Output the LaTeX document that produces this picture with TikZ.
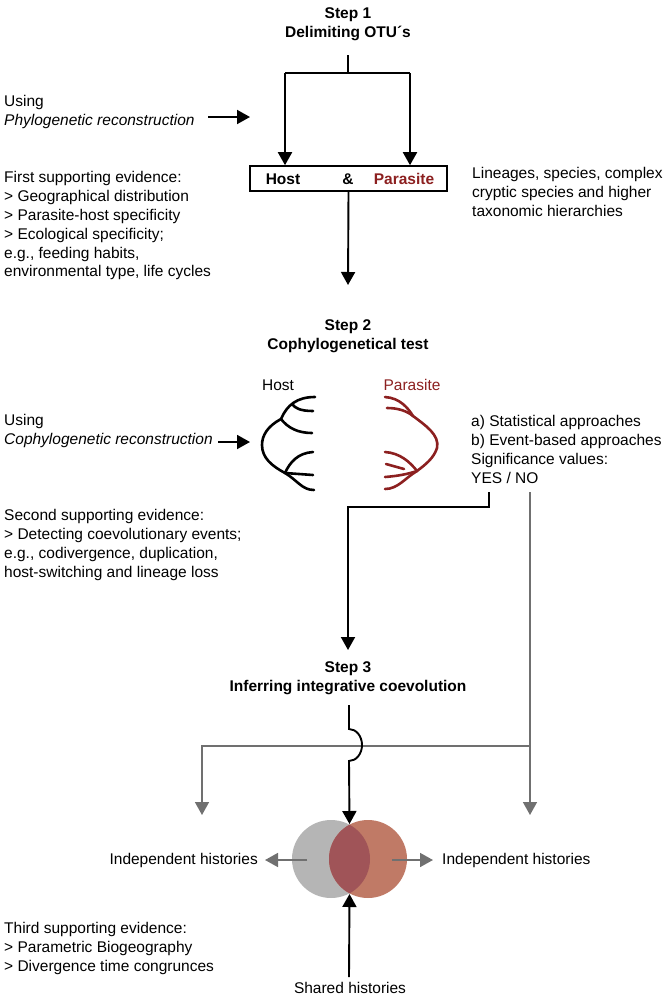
\documentclass[tikz,border=0pt]{standalone}
\usepackage{fontspec}
\setmainfont{Liberation Sans}
\usetikzlibrary{arrows.meta}
\usetikzlibrary{positioning}
\definecolor{parasitered}{RGB}{140,32,32}
\definecolor{nogray}{RGB}{112,112,112}
\definecolor{hostfill}{RGB}{181,181,181}
\definecolor{parafill}{RGB}{192,122,102}
\definecolor{sharedfill}{RGB}{160,84,88}

\begin{document}
\begin{tikzpicture}[x=1pt,y=-1pt,>={Triangle[length=13pt,width=14pt]},
  txt/.style={font=\fontsize{15.5}{18.9}\selectfont,inner sep=0pt,align=left,anchor=north west},
  lbl/.style={font=\fontsize{15.5}{18.9}\selectfont,inner sep=0pt},
  ttl/.style={font=\fontsize{15.5}{18.9}\selectfont\bfseries,inner sep=0pt,align=center},
  flow/.style={line width=1.9pt},
  noflow/.style={line width=1.6pt,nogray},
  tree/.style={line width=2.6pt,line cap=round}]
\useasboundingbox (0,0) rectangle (669,999);

% step 1
\node[ttl] (step1) at (348,24) {Step 1\\Delimiting OTU´s};
\coordinate (split) at (348,55);
\coordinate (splitmid) at (348,73);
\coordinate (hostdrop) at (285,73);
\coordinate (paradrop) at (410,73);
\node[draw,line width=1.6pt,minimum width=197pt,minimum height=25pt,inner sep=0pt] (otubox) at (348.5,178.5) {};
\node[lbl,font=\fontsize{15.5}{18.9}\selectfont\bfseries] (hostname) at (283,179) {Host};
\node[lbl,font=\fontsize{15.5}{18.9}\selectfont\bfseries] (amp) at (348,179) {\&};
\node[lbl,font=\fontsize{15.5}{18.9}\selectfont\bfseries,text=parasitered] (paraname) at (404,179) {Parasite};
\draw[flow] (split) -- (splitmid);
\draw[flow] (hostdrop) -- (paradrop);
\draw[flow,->] (hostdrop) -- (hostdrop |- otubox.north);
\draw[flow,->] (paradrop) -- (paradrop |- otubox.north);

\node[txt] (using1) at (4,95) {Using\\\textit{Phylogenetic reconstruction}};
\coordinate (phylofrom) at (208,117);
\coordinate (phyloto) at (250,117);
\draw[flow,->] (phylofrom) -- (phyloto);

\node[txt] (evid1) at (4,171) {First supporting evidence:\\> Geographical distribution\\> Parasite-host specificity\\> Ecological specificity;\\e.g., feeding habits,\\environmental type, life cycles};
\node[txt] (lineages) at (472,167) {Lineages, species, complex\\cryptic species and higher\\taxonomic hierarchies};

\coordinate (step2in) at (348,285);
\draw[flow,->] (otubox.south) -- (step2in);

% step 2
\node[ttl] (step2) at (348,336) {Step 2\\Cophylogenetical test};
\node[lbl] (hosttree) at (278,385) {Host};
\node[lbl,text=parasitered] (paratree) at (412,385) {Parasite};

% host tree
\draw[tree] (315,397) .. controls (297,397) and (287,405) .. (281,419)
  .. controls (268,426) and (262,435) .. (262,445)
  .. controls (262,458) and (272,466) .. (285,473)
  .. controls (297,480) and (302,490) .. (314,490);
\draw[tree] (313,411) .. controls (300,411) and (295,408) .. (292,404);
\draw[tree] (312,433) .. controls (298,433) and (288,428) .. (281,419);
\draw[tree] (313,452) .. controls (298,453) and (290,462) .. (285,473);
\draw[tree] (313,475) -- (285,473);

% parasite tree
\draw[tree,parasitered] (385,397) .. controls (400,398) and (408,408) .. (413,416)
  .. controls (425,425) and (440,435) .. (437,448)
  .. controls (434,458) and (425,465) .. (417,471)
  .. controls (405,478) and (398,489) .. (385,489);
\draw[tree,parasitered] (387,408) .. controls (398,408) and (407,411) .. (413,416);
\draw[tree,parasitered] (385,452) .. controls (400,453) and (410,462) .. (417,471);
\draw[tree,parasitered] (386,464) -- (404,469);
\draw[tree,parasitered] (385,477) .. controls (398,476) and (408,474) .. (417,471);

\node[txt] (using2) at (4,414) {Using\\\textit{Cophylogenetic reconstruction}};
\coordinate (cophyfrom) at (218,442);
\coordinate (cophyto) at (250,442);
\draw[flow,->] (cophyfrom) -- (cophyto);

\node[txt] (approaches) at (471,415) {a) Statistical approaches\\b) Event-based approaches\\Significance values:\\YES / NO};
\node[txt] (evid2) at (4,509) {Second supporting evidence:\\> Detecting coevolutionary events;\\e.g., codivergence, duplication,\\host-switching and lineage loss};

% yes / no
\coordinate (yesfoot) at (489,492);
\coordinate (yesbend) at (348,507);
\coordinate (step3in) at (348,650);
\draw[flow,->] (yesfoot) -- (yesfoot |- yesbend) -- (yesbend) -- (step3in);
\coordinate (nofoot) at (530,492);
\coordinate (nojoin) at (530,746);
\coordinate (noright) at (530,815);
\coordinate (noleft) at (202,815);
\draw[noflow,->] (nofoot) -- (noright);
\draw[noflow,->] (nojoin) -- (noleft |- nojoin) -- (noleft);

% step 3
\node[ttl] (step3) at (348,678) {Step 3\\Inferring integrative coevolution};
\coordinate (jumpin) at (349,705);
\coordinate (jumptop) at (349,729);
\coordinate (venntop) at (349.5,824);
\coordinate (vennbot) at (349.5,894);
\coordinate (hostc) at (331,859);
\coordinate (parac) at (368,859);
\fill[hostfill] (hostc) circle[radius=39];
\fill[parafill] (parac) circle[radius=39];
\begin{scope}
  \clip (hostc) circle[radius=39];
  \fill[sharedfill] (parac) circle[radius=39];
\end{scope}
\draw[flow,->] (jumpin) -- (jumptop) arc[start angle=-90,end angle=90,x radius=13,y radius=16] -- (venntop);

\coordinate (leftfrom) at (307,860);
\coordinate (leftto) at (265,860);
\coordinate (rightfrom) at (392,860);
\coordinate (rightto) at (433,860);
\draw[noflow,->] (leftfrom) -- (leftto);
\draw[noflow,->] (rightfrom) -- (rightto);
\node[lbl,anchor=east] (indepleft) at (258,860) {Independent histories};
\node[lbl,anchor=west] (indepright) at (442,860) {Independent histories};

\node[lbl] (shared) at (350,988) {Shared histories};
\coordinate (sharedfoot) at (349,977);
\draw[flow,->] (sharedfoot) -- (vennbot);

\node[txt] (evid3) at (4,922) {Third supporting evidence:\\> Parametric Biogeography\\> Divergence time congrunces};
\end{tikzpicture}
\end{document}
